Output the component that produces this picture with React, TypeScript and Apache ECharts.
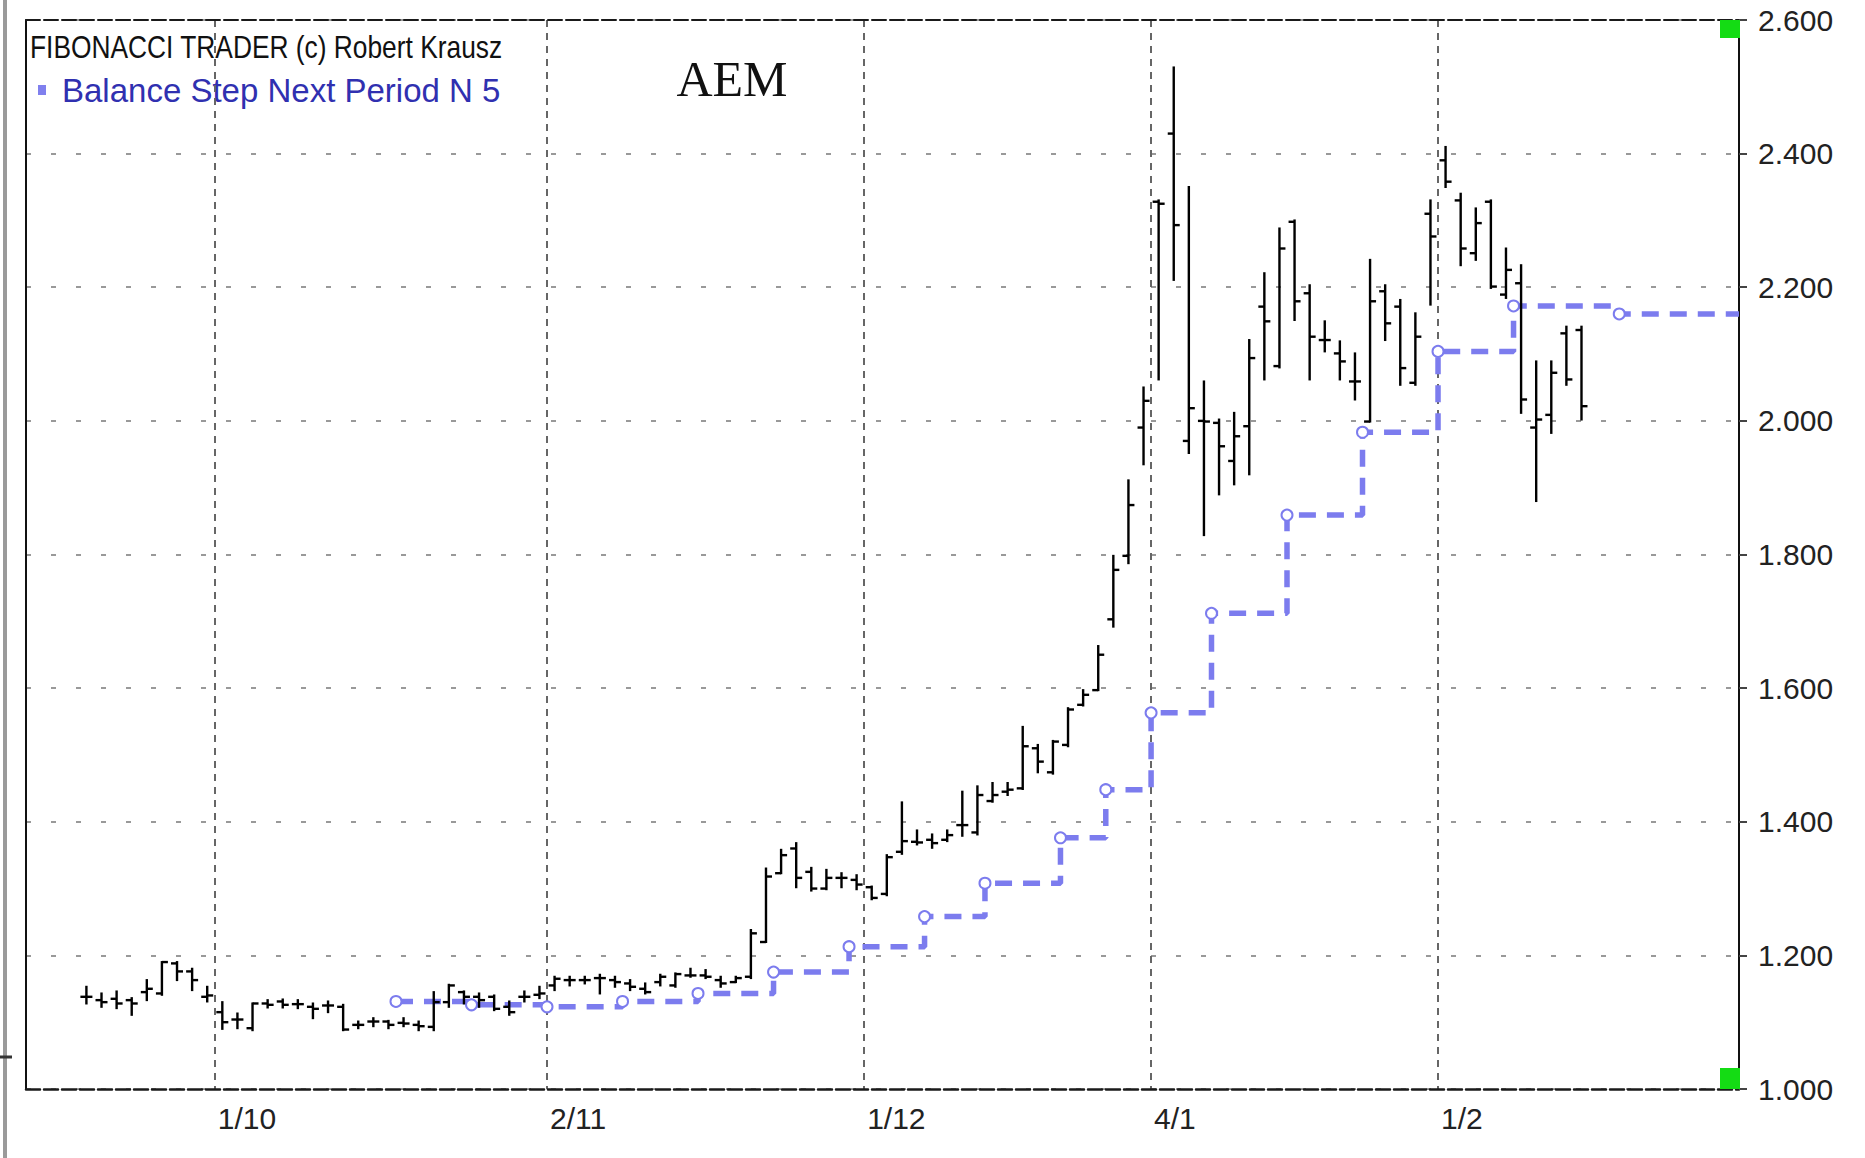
import React, { useEffect, useRef } from "react";
import * as echarts from "echarts";

// Trading days (d/m), one per price bar
const dates: string[] = [
  "18/9", "21/9", "22/9", "23/9", "24/9", "25/9", "28/9", "29/9", "30/9",
  "1/10", "2/10", "5/10", "6/10", "7/10", "8/10", "9/10", "12/10", "13/10", "14/10", "15/10", "16/10",
  "19/10", "20/10", "21/10", "22/10", "23/10", "26/10", "27/10", "28/10", "29/10", "30/10",
  "2/11", "3/11", "4/11", "5/11", "6/11", "9/11", "10/11", "11/11", "12/11", "13/11", "16/11", "17/11",
  "18/11", "19/11", "20/11", "23/11", "24/11", "25/11", "26/11", "27/11", "30/11",
  "1/12", "2/12", "3/12", "4/12", "7/12", "8/12", "9/12", "10/12", "11/12", "14/12", "15/12", "16/12",
  "17/12", "18/12", "21/12", "22/12", "23/12", "24/12", "31/12",
  "4/1", "5/1", "6/1", "7/1", "8/1", "11/1", "12/1", "13/1", "14/1", "15/1", "18/1", "19/1", "20/1",
  "21/1", "22/1", "25/1", "27/1", "28/1", "29/1",
  "1/2", "2/2", "3/2", "4/2", "5/2", "8/2", "9/2", "10/2", "11/2", "12/2",
];

const opens: number[] = [
  1.138, 1.133, 1.135, 1.133, 1.145, 1.143, 1.188, 1.176, 1.138,
  1.115, 1.104, 1.091, 1.128, 1.131, 1.127, 1.123, 1.125, 1.123, 1.096, 1.101, 1.101,
  1.099, 1.096, 1.093, 1.13, 1.145, 1.138, 1.138, 1.123, 1.138, 1.141,
  1.155, 1.163, 1.163, 1.166, 1.163, 1.158, 1.15, 1.16, 1.155, 1.17, 1.17, 1.163,
  1.16, 1.168, 1.22, 1.323, 1.36, 1.325, 1.3, 1.316, 1.313,
  1.302, 1.292, 1.355, 1.37, 1.373, 1.373, 1.395, 1.384, 1.431, 1.445, 1.45, 1.51,
  1.474, 1.515, 1.575, 1.597, 1.703, 1.798, 1.99,
  2.328, 2.43, 1.97, 2.0, 1.997, 1.94, 1.992, 2.171, 2.082, 2.298, 2.191, 2.121, 2.101,
  2.059, 1.999, 2.194, 2.171, 2.057, 2.31,
  2.39, 2.33, 2.251, 2.328, 2.189, 2.206, 1.99, 2.009, 2.131, 2.136,
];
const highs: number[] = [
  1.153, 1.143, 1.146, 1.136, 1.163, 1.19, 1.19, 1.18, 1.153,
  1.13, 1.113, 1.128, 1.133, 1.134, 1.133, 1.128, 1.131, 1.126, 1.101, 1.106, 1.102,
  1.106, 1.101, 1.145, 1.156, 1.146, 1.143, 1.14, 1.131, 1.146, 1.153,
  1.168, 1.168, 1.168, 1.171, 1.168, 1.163, 1.158, 1.171, 1.173, 1.18, 1.178, 1.168,
  1.168, 1.238, 1.33, 1.358, 1.368, 1.331, 1.328, 1.323, 1.32,
  1.303, 1.35, 1.429, 1.387, 1.381, 1.387, 1.445, 1.453, 1.458, 1.458, 1.542, 1.515,
  1.521, 1.57, 1.597, 1.663, 1.798, 1.911, 2.05,
  2.33, 2.529, 2.35, 2.059, 2.002, 2.012, 2.121, 2.221, 2.288, 2.3, 2.203, 2.149, 2.119,
  2.101, 2.241, 2.203, 2.181, 2.161, 2.33,
  2.41, 2.34, 2.318, 2.33, 2.258, 2.233, 2.089, 2.089, 2.141, 2.141,
];
const lows: number[] = [
  1.128, 1.123, 1.121, 1.111, 1.133, 1.141, 1.163, 1.148, 1.131,
  1.09, 1.091, 1.088, 1.122, 1.122, 1.121, 1.106, 1.115, 1.088, 1.091, 1.094, 1.091,
  1.094, 1.088, 1.088, 1.123, 1.128, 1.123, 1.118, 1.111, 1.131, 1.136,
  1.148, 1.155, 1.158, 1.143, 1.153, 1.148, 1.143, 1.155, 1.153, 1.168, 1.166, 1.153,
  1.16, 1.166, 1.22, 1.323, 1.302, 1.297, 1.299, 1.302, 1.299,
  1.284, 1.29, 1.352, 1.366, 1.361, 1.371, 1.379, 1.381, 1.43, 1.44, 1.449, 1.474,
  1.472, 1.513, 1.574, 1.597, 1.692, 1.787, 1.935,
  2.062, 2.211, 1.952, 1.829, 1.89, 1.905, 1.92, 2.062, 2.08, 2.151, 2.062, 2.104, 2.062,
  2.032, 1.999, 2.121, 2.054, 2.054, 2.174,
  2.35, 2.233, 2.241, 2.199, 2.184, 2.012, 1.88, 1.982, 2.054, 2.002,
];
const closes: number[] = [
  1.138, 1.13, 1.128, 1.128, 1.15, 1.19, 1.176, 1.163, 1.14,
  1.1, 1.104, 1.128, 1.126, 1.126, 1.127, 1.12, 1.125, 1.089, 1.096, 1.101, 1.096,
  1.098, 1.094, 1.13, 1.155, 1.138, 1.133, 1.12, 1.115, 1.138, 1.143,
  1.165, 1.163, 1.163, 1.166, 1.16, 1.153, 1.145, 1.168, 1.172, 1.17, 1.168, 1.158,
  1.166, 1.233, 1.318, 1.35, 1.316, 1.3, 1.316, 1.316, 1.306,
  1.286, 1.347, 1.371, 1.369, 1.368, 1.38, 1.395, 1.44, 1.44, 1.448, 1.513, 1.49,
  1.52, 1.568, 1.59, 1.65, 1.777, 1.874, 2.03,
  2.325, 2.293, 2.019, 1.999, 1.962, 1.977, 2.094, 2.149, 2.258, 2.179, 2.126, 2.121, 2.089,
  2.059, 2.179, 2.146, 2.079, 2.126, 2.276,
  2.358, 2.258, 2.296, 2.201, 2.226, 2.032, 2.002, 2.072, 2.062, 2.022,
];

// Balance Step Next Period N 5: bar index where each level starts, and the level
const stepStartBars: number[] = [21, 26, 31, 36, 41, 46, 51, 56, 60, 65, 68, 71, 75, 80, 85, 90, 95, 102];
const stepLevels: number[] = [
  1.131, 1.126, 1.123, 1.131, 1.143, 1.175, 1.213, 1.258, 1.308, 1.376, 1.448,
  1.563, 1.712, 1.859, 1.983, 2.104, 2.172, 2.16,
];

const Y_MIN = 1.0;
const Y_MAX = 2.6;
const Y_STEP = 0.2;
const X_MIN = -4;
const X_MAX = 109.43;

const FONT = "Liberation Sans, Arial, sans-serif";

export default function App() {
  const ref = useRef<HTMLDivElement>(null);

  useEffect(() => {
    if (!ref.current) return;
    const chart = echarts.init(ref.current, null, { renderer: "svg" });

    const monthStarts = dates
      .map((d, i) => (i > 0 && d.split("/")[1] !== dates[i - 1].split("/")[1] ? i : -1))
      .filter((i) => i >= 0);
    const boundaries = monthStarts.map((i) => i - 0.5);

    const ohlc = opens.map((o, i) => [i, o, highs[i], lows[i], closes[i]]);

    const stepData: any[] = stepStartBars.map((b, i) => ({ value: [b - 0.5, stepLevels[i]] }));
    stepData.push({ value: [X_MAX, stepLevels[stepLevels.length - 1]], symbol: "none" });

    const option: any = {
      animation: false,
      backgroundColor: "#ffffff",
      grid: { left: 26, right: 126, top: 20, bottom: 69, containLabel: false },
      xAxis: [
        {
          type: "value",
          position: "bottom",
          min: X_MIN,
          max: X_MAX,
          axisLine: { show: true, onZero: false, lineStyle: { color: "#1a1a1a", width: 2.5, type: [14, 4] } },
          axisTick: { show: false, customValues: boundaries },
          axisLabel: {
            show: true,
            customValues: boundaries,
            align: "left",
            padding: [0, 0, 0, 3],
            margin: 14,
            fontFamily: FONT,
            fontSize: 30,
            color: "#222",
            formatter: (v: number) => dates[Math.round(v + 0.5)] ?? "",
          },
          splitLine: { show: true, lineStyle: { color: "#666", width: 2, type: [7, 6] } },
        },
        {
          type: "value",
          position: "top",
          min: X_MIN,
          max: X_MAX,
          axisLine: { show: true, onZero: false, lineStyle: { color: "#1a1a1a", width: 2, type: [14, 4] } },
          axisTick: { show: false },
          axisLabel: { show: false },
          splitLine: { show: false },
        },
      ],
      yAxis: [
        {
          type: "value",
          position: "right",
          min: Y_MIN,
          max: Y_MAX,
          interval: Y_STEP,
          axisLine: { show: true, onZero: false, lineStyle: { color: "#111", width: 2 } },
          axisTick: { show: true, length: 8, lineStyle: { color: "#444", width: 2 } },
          axisLabel: {
            margin: 19,
            fontFamily: FONT,
            fontSize: 30,
            color: "#222",
            formatter: (v: number) => v.toFixed(3),
          },
          splitLine: { show: true, lineStyle: { color: "#999", width: 2, type: [5, 20] } },
        },
        {
          type: "value",
          position: "left",
          min: Y_MIN,
          max: Y_MAX,
          interval: Y_STEP,
          axisLine: { show: true, onZero: false, lineStyle: { color: "#111", width: 2 } },
          axisTick: { show: false },
          axisLabel: { show: false },
          splitLine: { show: false },
        },
      ],
      series: [
        {
          type: "line",
          name: "Balance Step Next Period N 5",
          xAxisIndex: 0,
          yAxisIndex: 0,
          step: "end",
          data: stepData,
          symbol: "emptyCircle",
          symbolSize: 11,
          showSymbol: true,
          lineStyle: { color: "#7c7cee", width: 5.5, type: [17, 11] },
          itemStyle: { color: "#7c7cee", borderWidth: 3.5 },
          z: 3,
          markPoint: {
            silent: true,
            symbol: "rect",
            label: { show: false },
            itemStyle: { color: "#14dc14" },
            data: [
              { coord: [X_MAX, Y_MAX], symbolSize: [20, 18], symbolOffset: [-9, 9] },
              { coord: [X_MAX, Y_MIN], symbolSize: [20, 21], symbolOffset: [-9, -10.5] },
            ],
          },
        },
        {
          type: "custom",
          name: "AEM",
          xAxisIndex: 0,
          yAxisIndex: 0,
          data: ohlc,
          encode: { x: 0, y: [1, 2, 3, 4] },
          z: 4,
          renderItem: (params: any, api: any) => {
            const x = api.value(0);
            const pO = api.coord([x, api.value(1)]);
            const pH = api.coord([x, api.value(2)]);
            const pL = api.coord([x, api.value(3)]);
            const pC = api.coord([x, api.value(4)]);
            const st = { stroke: "#000", lineWidth: 2.4 };
            return {
              type: "group",
              children: [
                { type: "line", shape: { x1: pH[0], y1: pH[1] - 1, x2: pL[0], y2: pL[1] + 1 }, style: st },
                { type: "line", shape: { x1: pO[0] - 6, y1: pO[1], x2: pO[0], y2: pO[1] }, style: st },
                { type: "line", shape: { x1: pC[0], y1: pC[1], x2: pC[0] + 6, y2: pC[1] }, style: st },
              ],
            };
          },
        },
      ],
      graphic: [
        {
          type: "line",
          shape: { x1: 5, y1: 0, x2: 5, y2: 1158 },
          style: { stroke: "#9a9a9a", lineWidth: 4 },
        },
        {
          type: "line",
          shape: { x1: 0, y1: 1057, x2: 12, y2: 1057 },
          style: { stroke: "#333", lineWidth: 3 },
        },
        {
          type: "text",
          x: 30,
          y: 47,
          scaleX: 0.85,
          style: {
            text: "FIBONACCI TRADER (c) Robert Krausz",
            fontFamily: FONT,
            fontSize: 31,
            fill: "#111",
            align: "left",
            verticalAlign: "middle",
          },
        },
        {
          type: "rect",
          x: 38,
          y: 85,
          shape: { x: 0, y: 0, width: 8, height: 10 },
          style: { fill: "#8080ee" },
        },
        {
          type: "text",
          x: 62,
          y: 90,
          style: {
            text: "Balance Step Next Period N 5",
            fontFamily: FONT,
            fontSize: 33,
            fill: "#3030b0",
            align: "left",
            verticalAlign: "middle",
          },
        },
        {
          type: "text",
          x: 732,
          y: 79,
          style: {
            text: "AEM",
            fontFamily: "Liberation Serif, Times New Roman, serif",
            fontSize: 50,
            fill: "#111",
            align: "center",
            verticalAlign: "middle",
          },
        },
      ],
    };

    chart.setOption(option);
    return () => chart.dispose();
  }, []);

  return (
    <div
      ref={ref}
      style={{ position: "absolute", left: 0, top: 0, width: 1865, height: 1158, background: "#fff" }}
    />
  );
}
